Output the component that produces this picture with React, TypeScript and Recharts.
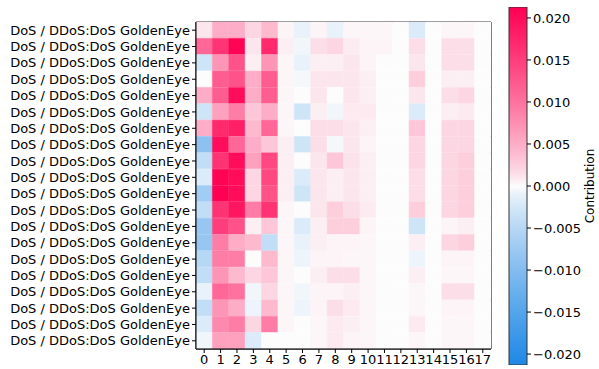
import {
  BarChart,
  Bar,
  Cell,
  XAxis,
  YAxis,
  ReferenceArea,
} from 'recharts';

// one row per sample, one column per input feature
const ROW_LABELS = Array.from({ length: 20 }, () => 'DoS / DDoS:DoS GoldenEye');
const FEATURES = Array.from({ length: 18 }, (_, i) => i);

// contribution of each feature (columns 0..17) per sample
const VALUES: number[][] = [
  [0.001, 0.005, 0.005, 0.002, 0.004, 0.0003, -0.001, 0.0003, -0.001, 0.0002, 0.0002, 0.0002, 0, -0.002, 0, 0.0002, 0.0002, 0],
  [0.011, 0.016, 0.021, 0.001, 0.017, 0.0005, -0.0005, 0.0015, 0.002, 0.0007, 0.0003, 0.0003, 0, 0.0015, 0, 0.0015, 0.0015, 0],
  [-0.003, 0.007, 0.013, 0.0005, 0.007, 0.0002, -0.001, 0.0005, 0.0005, 0.001, 0.0003, 0, 0, 0.001, 0, 0.0015, 0.0015, 0],
  [0, 0.012, 0.013, 0.005, 0.012, 0.0002, -0.0003, 0.001, 0.001, 0.001, 0.0005, 0, 0, 0.0025, 0, 0.0005, 0.0005, 0],
  [0.005, 0.012, 0.02, 0.005, 0.012, 0.0002, 0, 0.001, 0, 0.001, 0.0005, 0, 0, 0.001, 0, 0.0015, 0.002, 0],
  [-0.003, 0.006, 0.009, 0.003, 0.005, 0.0002, -0.003, 0.0005, -0.0005, 0.0008, 0.0008, 0, 0, -0.002, 0, 0.0005, 0.0008, 0],
  [0.005, 0.017, 0.018, 0.004, 0.011, 0.0002, 0, 0.0015, 0.0015, 0.001, 0.0005, 0, 0, 0.003, 0, 0.002, 0.002, 0],
  [-0.009, 0.02, 0.011, 0.005, 0.003, 0.0005, -0.003, 0.0015, -0.0003, 0.001, 0.0003, 0, 0, 0.002, 0, 0.002, 0.002, 0],
  [-0.004, 0.016, 0.02, 0.006, 0.014, 0.0005, 0, 0.001, 0.003, 0.0012, 0.0005, 0, 0, 0.002, 0, 0.002, 0.0025, 0],
  [-0.002, 0.021, 0.02, 0.002, 0.014, 0.0005, -0.002, 0.001, 0.0005, 0.001, 0.0005, 0, 0, 0.0015, 0, 0.002, 0.0025, 0],
  [-0.007, 0.022, 0.02, 0.002, 0.013, 0.0005, -0.003, 0.001, 0.0005, 0.001, 0.0005, 0, 0, 0.0015, 0, 0.002, 0.0025, 0],
  [-0.004, 0.016, 0.019, 0.009, 0.016, 0.0002, 0, 0.001, 0.0025, 0.0015, 0.0007, 0, 0, 0.0025, 0, 0.002, 0.0025, 0],
  [-0.008, 0.015, 0.013, 0.0005, 0.003, 0.0002, -0.002, 0.0005, 0.0025, 0.0025, 0.0003, 0, 0, -0.003, 0, 0.0003, 0.0005, 0],
  [-0.008, 0.009, 0.005, 0.004, -0.004, 0.0002, -0.001, 0.0005, 0.0003, 0.0003, 0.0002, 0, 0, 0.0005, 0, 0.002, 0.0025, 0],
  [-0.005, 0.009, 0.009, 0, 0.004, 0.0002, -0.0007, 0.0003, 0.0003, 0.0002, 0.0002, 0, 0, -0.0007, 0, 0.0003, 0.0003, 0],
  [-0.004, 0.007, 0.004, 0.002, 0.003, 0.0002, 0, 0.0005, 0.0015, 0.0015, 0.0002, 0, 0, 0.0005, 0, 0.0002, 0.0002, 0],
  [-0.001, 0.011, 0.01, -0.0005, 0.002, 0.0002, -0.0005, 0.0003, 0.0003, 0.0005, 0.0002, 0, 0, 0.0002, 0, 0.0015, 0.0015, 0],
  [-0.004, 0.007, 0.005, -0.0007, 0.004, 0.0002, -0.0007, 0.0003, 0.0015, 0.0008, 0.0002, 0, 0, 0.0002, 0, 0.0003, 0.0003, 0],
  [-0.002, 0.008, 0.009, 0.002, 0.009, 0.0002, 0, 0.0002, 0.0008, 0.0005, 0.0002, 0, 0, 0.0008, 0, 0.0002, 0.0002, 0],
  [-0.0005, 0.006, 0.006, -0.002, 0, 0, 0, 0.0002, 0.0008, 0.0003, 0.0002, 0, 0, 0.0002, 0, 0.0002, 0.0002, 0],
];

const CB_TICKS = [-0.02, -0.015, -0.01, -0.005, 0, 0.005, 0.01, 0.015, 0.02];
const CB_MAX = 0.0213;

const FONT = '"DejaVu Sans", sans-serif';
const RED = [255, 0, 82];
const BLUE = [30, 136, 229];
const MID = [252, 252, 252];

// diverging blue-white-red map, eased so mid values keep some saturation
function colorFor(v: number) {
  const t = Math.pow(Math.min(1, Math.abs(v) / CB_MAX), 0.8);
  const end = v >= 0 ? RED : BLUE;
  const c = MID.map((m, i) => Math.round(m + (end[i] - m) * t));
  return `rgb(${c[0]},${c[1]},${c[2]})`;
}

// each feature column is a unit-wide segment of a stacked horizontal bar
const rows = ROW_LABELS.map((_, r) => {
  const o: Record<string, number> = { idx: r };
  FEATURES.forEach((f) => (o[`f${f}`] = 1));
  return o;
});

// colorbar: one range bar covering the whole scale
const cbData = [{ name: 'cb', range: [-CB_MAX, CB_MAX] }];

const cbStops = Array.from({ length: 41 }, (_, i) => {
  const v = CB_MAX - (2 * CB_MAX * i) / 40;
  return { offset: `${(i / 40) * 100}%`, color: colorFor(v) };
});

const fmt = (v: number) => (v < 0 ? '\u2212' : '') + Math.abs(v).toFixed(3);

const tick = { fontSize: 13, fill: '#000', fontFamily: FONT };

export default function App() {
  return (
    <div style={{ position: 'absolute', left: 0, top: 0, width: 599, height: 369, background: '#fff' }}>
      <div style={{ position: 'absolute', left: 0, top: 0 }}>
        <BarChart
          width={599}
          height={369}
          data={rows}
          layout="vertical"
          barCategoryGap={0}
          barGap={0}
          margin={{ top: 22, right: 108, bottom: 0, left: 0 }}
        >
          <XAxis
            type="number"
            domain={[0, FEATURES.length]}
            ticks={FEATURES.map((f) => f + 0.5)}
            tickFormatter={(v: number) => String(v - 0.5)}
            interval={0}
            tick={tick}
            tickSize={4}
            height={20}
            stroke="#000"
            allowDataOverflow
          />
          <YAxis
            type="category"
            dataKey="idx"
            tickFormatter={(i: number) => ROW_LABELS[i]}
            interval={0}
            tick={tick}
            tickSize={4}
            width={196}
            stroke="#000"
          />
          {FEATURES.map((f) => (
            <Bar key={f} dataKey={`f${f}`} stackId="a" isAnimationActive={false}>
              {rows.map((_, r) => (
                <Cell key={r} fill={colorFor(VALUES[r][f])} stroke={colorFor(VALUES[r][f])} strokeWidth={0.5} />
              ))}
            </Bar>
          ))}
          <ReferenceArea x1={0} x2={FEATURES.length} fill="none" stroke="#000" strokeWidth={1} ifOverflow="visible" />
        </BarChart>
      </div>
      <div style={{ position: 'absolute', left: 0, top: 0 }}>
        <BarChart
          width={599}
          height={369}
          data={cbData}
          barCategoryGap={0}
          margin={{ top: 7, right: 12, bottom: 4, left: 509 }}
        >
          <defs>
            <linearGradient id="cbGrad" x1="0" y1="0" x2="0" y2="1">
              {cbStops.map((s, i) => (
                <stop key={i} offset={s.offset} stopColor={s.color} />
              ))}
            </linearGradient>
          </defs>
          <XAxis dataKey="name" hide />
          <YAxis
            orientation="right"
            type="number"
            domain={[-CB_MAX, CB_MAX]}
            ticks={CB_TICKS}
            tickFormatter={fmt}
            interval={0}
            tick={tick}
            tickSize={4}
            width={60}
            axisLine={false}
            stroke="#000"
            allowDataOverflow
            label={{
              content: ({ viewBox }: any) => {
                const x = viewBox.x + 63;
                const y = viewBox.y + viewBox.height / 2;
                return (
                  <text
                    x={x}
                    y={y}
                    transform={`rotate(-90 ${x} ${y})`}
                    textAnchor="middle"
                    dominantBaseline="central"
                    fontSize={12}
                    fontFamily={FONT}
                    fill="#000"
                  >
                    Contribution
                  </text>
                );
              },
            }}
          />
          <Bar dataKey="range" fill="url(#cbGrad)" stroke="#333" strokeWidth={1} isAnimationActive={false} />
        </BarChart>
      </div>
    </div>
  );
}
